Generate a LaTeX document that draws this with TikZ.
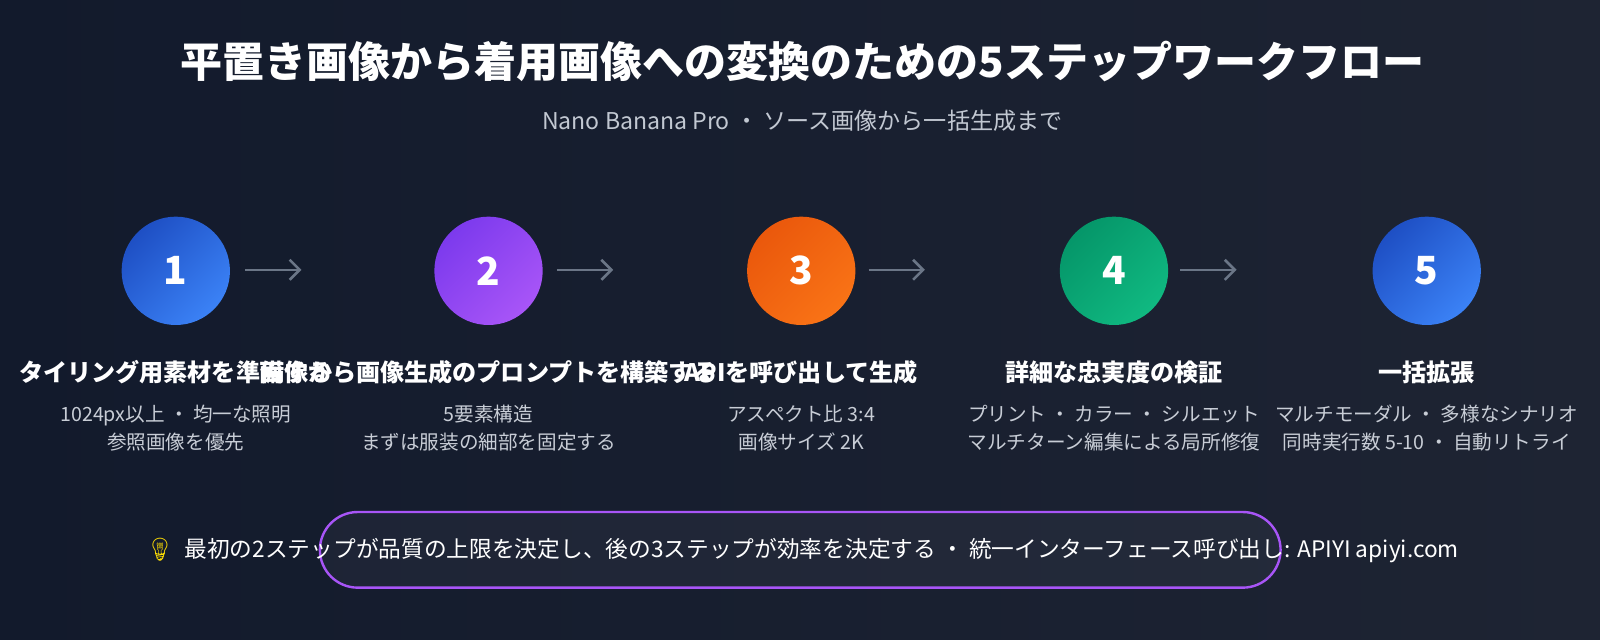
\documentclass[tikz,border=0pt]{standalone}
\usepackage{fontspec}
\setmainfont{Noto Sans CJK JP}
\newfontfamily\emo{Noto Emoji}
\usetikzlibrary{arrows.meta}
\definecolor{bgA}{HTML}{121A2C}
\definecolor{bgB}{HTML}{1E2433}
\definecolor{sub}{HTML}{C2C8D2}
\definecolor{desc}{HTML}{C8CDD6}
\definecolor{arr}{HTML}{6B7687}
\definecolor{pur}{HTML}{A855F7}
\definecolor{bA}{HTML}{1E4FC4}\definecolor{bB}{HTML}{3B82F6}
\definecolor{pA}{HTML}{7C3AED}\definecolor{pB}{HTML}{A855F7}
\definecolor{oA}{HTML}{EA580C}\definecolor{oB}{HTML}{F97316}
\definecolor{gA}{HTML}{059669}\definecolor{gB}{HTML}{10B981}
\newlength\unitlen \setlength\unitlen{0.511pt}
\tikzset{
  stepc/.style 2 args={circle,minimum size=106\unitlen,inner sep=0pt,text=white,font=\bfseries\fontsize{19.4}{19.4}\selectfont,top color=#1,bottom color=#2,shading angle=45},
  ttl/.style={text=white,font=\bfseries\fontsize{12.05}{14}\selectfont,inner sep=0pt},
  dsc/.style={text=desc,font=\fontsize{9.8}{14.3}\selectfont,align=center,inner sep=0pt},
  link/.style={draw=arr,line width=1.3pt,-{Straight Barb[length=5pt,width=10pt]}},
}
\begin{document}
\begin{tikzpicture}[x=0.511pt,y=-0.511pt]
\shade[left color=bgA,right color=bgB] (0,0) rectangle (1566,627);
\node[text=white,font=\bfseries\fontsize{21}{24}\selectfont] (title) at (785,60) {平置き画像から着用画像への変換のための5ステップワークフロー};
\node[text=sub,font=\fontsize{11.55}{14}\selectfont] (subt) at (785,118) {Nano Banana Pro ・ ソース画像から一括生成まで};
\node[stepc={bA}{bB}] (c1) at (172,265) {1};
\node[stepc={pA}{pB}] (c2) at (478,265) {2};
\node[stepc={oA}{oB}] (c3) at (784,265) {3};
\node[stepc={gA}{gB}] (c4) at (1090,265) {4};
\node[stepc={bA}{bB}] (c5) at (1396,265) {5};
\draw[link] (240,264) -- (295,264);
\draw[link] (545,264) -- (600,264);
\draw[link] (850,264) -- (905,264);
\draw[link] (1155,264) -- (1210,264);
\node[ttl] (t1) at (172,364) {タイリング用素材を準備する};
\node[ttl] (t2) at (478,364) {画像から画像生成のプロンプトを構築する};
\node[ttl] (t3) at (784,364) {APIを呼び出して生成};
\node[ttl] (t4) at (1090,364) {詳細な忠実度の検証};
\node[ttl] (t5) at (1396,364) {一括拡張};
\node[dsc] (d1) at (172,419) {1024px以上 ・ 均一な照明\\参照画像を優先};
\node[dsc] (d2) at (478,419) {5要素構造\\まずは服装の細部を固定する};
\node[dsc] (d3) at (784,419) {アスペクト比 3:4\\画像サイズ 2K};
\node[dsc] (d4) at (1090,419) {プリント ・ カラー ・ シルエット\\マルチターン編集による局所修復};
\node[dsc] (d5) at (1396,419) {マルチモーダル ・ 多様なシナリオ\\同時実行数 5-10 ・ 自動リトライ};
\draw[draw=pur,line width=1.2pt,fill=white,fill opacity=0.04,rounded corners=37\unitlen] (313,501) rectangle (1253,575);
\node[text=white,font=\fontsize{11.35}{14}\selectfont] (note) at (785,539) {{\emo\textcolor{yellow!80!orange}{💡}}\ \ 最初の2ステップが品質の上限を決定し、後の3ステップが効率を決定する ・ 統一インターフェース呼び出し: APIYI apiyi.com};
\pgfresetboundingbox
\useasboundingbox (0,0) rectangle (1565.56,626.22);
\end{tikzpicture}
\end{document}
